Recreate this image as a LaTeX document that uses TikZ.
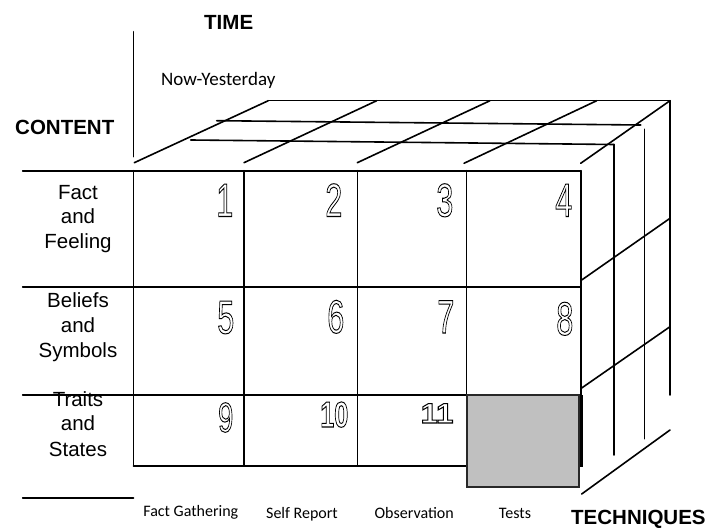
\documentclass[tikz,border=0pt]{standalone}
\usepackage{fontspec}
\usepackage{graphicx}
\setmainfont{Liberation Sans}
\newfontfamily\calib{Carlito}
\newcommand\dg[3]{\scalebox{#2}[1]{\fontsize{#1}{#1}\selectfont\special{pdf:literal direct 1 Tr 1 w}#3\special{pdf:literal direct 0 Tr}}}
\tikzset{
  front/.style={line width=1.8pt, line cap=round},
  persp/.style={line width=1.6pt, line cap=round},
  lbl/.style={inner sep=0pt, anchor=base, font=\fontsize{20.5}{24}\selectfont},
  head/.style={inner sep=0pt, anchor=base west, font=\fontsize{20.5}{24}\selectfont\bfseries},
  tech/.style={inner sep=0pt, anchor=base, font=\calib\fontsize{16}{19}\selectfont},
  digit/.style={inner sep=0pt, anchor=base east},
}
\begin{document}
\begin{tikzpicture}[x=1pt,y=-1pt]
\useasboundingbox[fill=white] (0,0) rectangle (712,529);

% top face
\draw[persp] (268.3,100.7) -- (670,100.7);
\draw[persp] (216.7,120.7) -- (640.7,125);
\draw[persp] (190.7,140) -- (614,144.5);
\draw[persp] (134.3,162.7) -- (268.3,100.7);
\draw[persp] (244,162.7) -- (376.7,100.7);
\draw[persp] (357.3,162.7) -- (490,100.7);
\draw[persp] (464,163.3) -- (596.7,100.7);
\draw[persp] (580.7,163.3) -- (670,100.7);

% right face
\draw[persp] (670,100.7) -- (670,395);
\draw[persp] (644.5,129.3) -- (644.5,438.7);
\draw[persp] (614,144.5) -- (614,455);
\draw[persp] (581.7,280) -- (670,218.3);
\draw[persp] (581.7,388) -- (670,326.7);
\draw[persp] (581.7,494) -- (670,430);

% axis lines
\draw[persp] (133.3,31.7) -- (133.3,156.7);
\draw[front] (22.7,498.3) -- (133.5,498.3);

% front grid
\draw[front] (22.7,170.7) -- (580.7,170.7);
\draw[front] (22.7,287.3) -- (580.7,287.3);
\draw[front] (22.7,395) -- (580.7,395);
\draw[front] (133.5,465.7) -- (467,465.7);
\draw[front] (133.5,170.7) -- (133.5,465.7);
\draw[front] (244,170.7) -- (244,465.7);
\draw[front] (357.5,170.7) -- (357.5,465.7);
\draw[front] (466.5,170.7) -- (466.5,395);
\draw[front] (580.7,170.7) -- (580.7,395);
\draw[line width=2pt, fill={rgb,255:red,192;green,192;blue,192}, draw={rgb,255:red,40;green,40;blue,40}] (467.3,395) rectangle (579.3,487.3);
\draw[line width=3pt] (581,395) -- (581,467);

% headings
\node[head] (time) at (204,29.3) {TIME};
\node[inner sep=0pt, anchor=base west, font=\calib\fontsize{19}{22}\selectfont] (now) at (161,86) {Now-Yesterday};
\node[head] (content) at (15,135) {CONTENT};
\node[head] (techniques) at (571,524) {TECHNIQUES};

% row labels
\node[lbl] (r1a) at (78,199.3) {Fact};
\node[lbl] (r1b) at (78,224) {and};
\node[lbl] (r1c) at (78,248.3) {Feeling};
\node[lbl] (r2a) at (78,308) {Beliefs};
\node[lbl] (r2b) at (78,332.7) {and};
\node[lbl] (r2c) at (78,357) {Symbols};
\node[lbl] (r3a) at (78,406.7) {Traits};
\node[lbl] (r3b) at (78,430.7) {and};
\node[lbl] (r3c) at (78,456) {States};

% column labels
\node[tech] (c1) at (190.8,516.7) {Fact Gathering};
\node[tech] (c2) at (302,518.3) {Self Report};
\node[tech] (c3) at (414.2,518.3) {Observation};
\node[tech] (c4) at (515,518.3) {Tests};

% cell numbers
\node[digit] (n1) at (233.5,216.5) {\dg{47}{0.65}{1}};
\node[digit] (n2) at (342.5,216.5) {\dg{47}{0.65}{2}};
\node[digit] (n3) at (453.5,216.5) {\dg{47}{0.65}{3}};
\node[digit] (n4) at (572.5,216.5) {\dg{47}{0.65}{4}};
\node[digit] (n5) at (234.5,333.5) {\dg{47}{0.65}{5}};
\node[digit] (n6) at (344.5,333) {\dg{47}{0.65}{6}};
\node[digit] (n7) at (454.5,333) {\dg{47}{0.65}{7}};
\node[digit] (n8) at (573.5,335) {\dg{47}{0.65}{8}};
\node[digit] (n9) at (233.5,432) {\dg{42}{0.65}{9}};
\node[digit] (n10) at (348.5,427) {\dg{36}{0.7}{\bfseries 10}};
\node[digit] (n11) at (453.5,423) {\dg{28}{1.1}{\bfseries 11}};
\end{tikzpicture}
\end{document}
